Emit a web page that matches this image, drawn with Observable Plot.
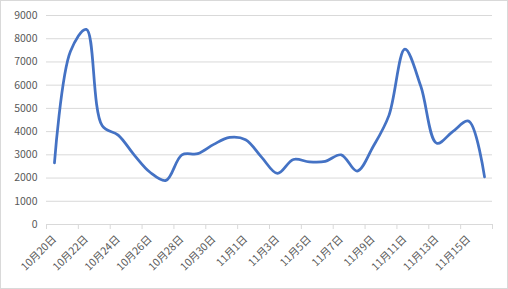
<!DOCTYPE html>
<html><head><meta charset="utf-8">
<script src="https://cdn.jsdelivr.net/npm/d3@7"></script>
<script src="https://cdn.jsdelivr.net/npm/@observablehq/plot@0.6"></script>
<style>
body{margin:0;background:#fff;}
#wrap{position:relative;width:508px;height:289px;}
#border{position:absolute;left:0;top:0;width:508px;height:289px;box-sizing:border-box;border:1px solid #d9d9d9;pointer-events:none;}
</style></head>
<body><div id="wrap"><div id="border"></div></div>
<script>
const dates = ["10月20日","10月21日","10月22日","10月23日","10月24日","10月25日","10月26日","10月27日","10月28日","10月29日","10月30日","10月31日","11月1日","11月2日","11月3日","11月4日","11月5日","11月6日","11月7日","11月8日","11月9日","11月10日","11月11日","11月12日","11月13日","11月14日","11月15日","11月16日"];
const values = [2650,7450,8400,4250,3850,3000,2250,1900,3000,3050,3450,3750,3650,2900,2200,2800,2700,2720,3000,2300,3350,4700,7550,5950,3500,4000,4450,2050];
const yTicks = [0,1000,2000,3000,4000,5000,6000,7000,8000,9000];

const data = dates.map((d,i)=>({date:d, idx:i+0.5, value:values[i]}));
const n = dates.length;
const boundaryTicks = d3.range(0, n+1, 2);
const labelTicks = d3.range(0, n, 2).map(i=>i+0.5);
const font = "'Noto Sans CJK SC', 'Noto Sans', sans-serif";

const chart = Plot.plot({
  width:508, height:289,
  marginLeft:46, marginRight:16, marginTop:15, marginBottom:65,
  style:{fontFamily:font, fontSize:"10.5px", color:"#595959", background:"transparent"},
  x:{type:"linear", domain:[0,n], axis:null},
  y:{domain:[0,9000], axis:null},
  marks:[
    Plot.gridY(yTicks.filter(v=>v>0), {stroke:"#d9d9d9", strokeOpacity:1}),
    Plot.ruleY([0], {stroke:"#d9d9d9"}),
    Plot.axisY(yTicks, {tickSize:0, tickPadding:9, fill:"#595959", fontSize:10.5, tickFormat:d=>String(d), label:null}),
    Plot.axisX(boundaryTicks, {tickSize:5, stroke:"#d9d9d9", tickFormat:()=>"", label:null}),
    Plot.axisX(labelTicks, {tickSize:0, tickPadding:13, tickRotate:-45, fill:"#595959", fontSize:10.5,
      tickFormat:v=>dates[Math.round(v-0.5)], label:null}),
    Plot.line(data, {x:"idx", y:"value", stroke:"#4472C4", strokeWidth:2.75, curve:"catmull-rom"})
  ]
});
document.getElementById("wrap").prepend(chart);
chart.style.position="absolute"; chart.style.left="0"; chart.style.top="0";
</script></body></html>
